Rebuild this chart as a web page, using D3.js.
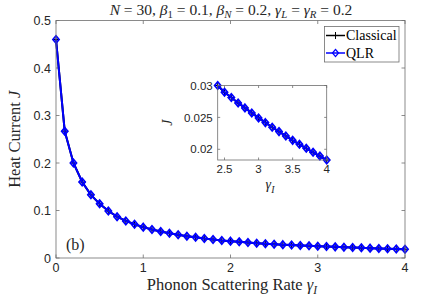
<!DOCTYPE html>
<html>
<head>
<meta charset="utf-8">
<script src="https://cdn.jsdelivr.net/npm/d3@7"></script>
<style>
  body { margin: 0; background: #fff; }
  svg text { fill: #262626; }
</style>
</head>
<body>
<script>
// ---- data ----
const gammaMain = [0, 0.1, 0.2, 0.3, 0.4, 0.5, 0.6, 0.7, 0.8, 0.9, 1.0,
                   1.1, 1.2, 1.3, 1.4, 1.5, 1.6, 1.7, 1.8, 1.9, 2.0,
                   2.1, 2.2, 2.3, 2.4, 2.5, 2.6, 2.7, 2.8, 2.9, 3.0,
                   3.1, 3.2, 3.3, 3.4, 3.5, 3.6, 3.7, 3.8, 3.9, 4.0];
const currentQLR = [0.460, 0.267, 0.200, 0.160, 0.133, 0.114, 0.099, 0.087, 0.078, 0.071, 0.065,
                    0.060, 0.056, 0.052, 0.049, 0.046, 0.0435, 0.041, 0.039, 0.037, 0.0355,
                    0.034, 0.0325, 0.0312, 0.0300, 0.02895, 0.02811, 0.02727, 0.02649, 0.02570, 0.02492,
                    0.02418, 0.02345, 0.02277, 0.02209, 0.02140, 0.02078, 0.02015, 0.01952, 0.01894, 0.01831];
const currentClassical = currentQLR.slice(); // curves coincide in the figure

const xTicks = [0, 1, 2, 3, 4];
const yTicks = [0, 0.1, 0.2, 0.3, 0.4, 0.5];
const insetXTicks = [2.5, 3, 3.5, 4];
const insetYTicks = [0.02, 0.025, 0.03];
const legendKeys = ["Classical", "QLR"];

// ---- layout ----
const WIDTH = 436, HEIGHT = 297;
const plot = {left: 56, right: 405, top: 20.5, bottom: 258};
const inset = {left: 217.7, right: 326.7, top: 85.5, bottom: 160};
const axisColor = "#6e6e6e";
const serif = "'Liberation Serif', 'DejaVu Serif', serif";
const sans = "'Liberation Sans', Arial, sans-serif";

const svg = d3.select("body").append("svg")
    .attr("width", WIDTH)
    .attr("height", HEIGHT);

// writes math-ish text: parts = [text, kind]
// kind: r roman, i italic, s italic subscript, sr roman subscript
function mathText(sel, parts, size) {
  let shifted = false;
  parts.forEach(([t, kind]) => {
    const ts = sel.append("tspan").text(t);
    if (kind === "i") ts.style("font-style", "italic");
    if (kind === "s" || kind === "sr") {
      if (kind === "s") ts.style("font-style", "italic");
      ts.attr("font-size", size * 0.7).attr("dy", size * 0.25);
      shifted = true;
    } else if (shifted) {
      ts.attr("dy", -size * 0.25);
      shifted = false;
    }
  });
}

function drawFrame(g, box, x, y, xt, yt, tickLen, fmtX, fmtY, fs) {
  g.append("rect")
      .attr("x", box.left).attr("y", box.top)
      .attr("width", box.right - box.left).attr("height", box.bottom - box.top)
      .attr("fill", "#fff").attr("stroke", "none");

  xt.forEach(v => {
    const px = x(v);
    g.append("line").attr("x1", px).attr("x2", px).attr("y1", box.bottom).attr("y2", box.bottom - tickLen)
        .attr("stroke", axisColor).attr("stroke-width", 0.8);
    g.append("line").attr("x1", px).attr("x2", px).attr("y1", box.top).attr("y2", box.top + tickLen)
        .attr("stroke", axisColor).attr("stroke-width", 0.8);
    g.append("text").attr("x", px).attr("y", box.bottom + fs + 1)
        .attr("text-anchor", "middle").attr("font-family", sans).attr("font-size", fs)
        .text(fmtX(v));
  });
  yt.forEach(v => {
    const py = y(v);
    g.append("line").attr("y1", py).attr("y2", py).attr("x1", box.left).attr("x2", box.left + tickLen)
        .attr("stroke", axisColor).attr("stroke-width", 0.8);
    g.append("line").attr("y1", py).attr("y2", py).attr("x1", box.right).attr("x2", box.right - tickLen)
        .attr("stroke", axisColor).attr("stroke-width", 0.8);
    g.append("text").attr("x", box.left - 5).attr("y", py).attr("dy", "0.36em")
        .attr("text-anchor", "end").attr("font-family", sans).attr("font-size", fs)
        .text(fmtY(v));
  });
}

function drawSeries(g, x, y, xs, ys, lw) {
  const pts = xs.map((v, i) => [x(v), y(ys[i])]);
  const line = d3.line();
  // classical underneath
  g.append("path").attr("d", line(pts)).attr("fill", "none").attr("stroke", "#000").attr("stroke-width", lw);
  g.selectAll(null).data(pts).enter().append("path")
      .attr("d", d => `M${d[0]-3.5},${d[1]}H${d[0]+3.5}M${d[0]},${d[1]-3.5}V${d[1]+3.5}`)
      .attr("stroke", "#000").attr("stroke-width", 1);
  // QLR on top
  g.append("path").attr("d", line(pts)).attr("fill", "none").attr("stroke", "#0000ff").attr("stroke-width", lw);
  g.selectAll(null).data(pts).enter().append("path")
      .attr("d", d => `M${d[0]},${d[1]-3.7}L${d[0]+3.1},${d[1]}L${d[0]},${d[1]+3.7}L${d[0]-3.1},${d[1]}Z`)
      .attr("fill", "none").attr("stroke", "#0000ff").attr("stroke-width", 1.7);
}

// ---- main axes ----
const xScale = d3.scaleLinear().domain([0, 4]).range([plot.left, plot.right]);
const yScale = d3.scaleLinear().domain([0, 0.5]).range([plot.bottom, plot.top]);

const main = svg.append("g");
drawFrame(main, plot, xScale, yScale, xTicks, yTicks, 3.5, d3.format("d"), d => d === 0 ? "0" : d3.format(".1f")(d), 12.5);
drawSeries(main, xScale, yScale, gammaMain, currentQLR, 2);

main.append("rect")
    .attr("x", plot.left).attr("y", plot.top)
    .attr("width", plot.right - plot.left).attr("height", plot.bottom - plot.top)
    .attr("fill", "none").attr("stroke", axisColor).attr("stroke-width", 0.8);

// panel tag
main.append("text").attr("x", 66).attr("y", 250)
    .attr("font-family", serif).attr("font-size", 16).text("(b)");

// title
const title = svg.append("text").attr("x", 231).attr("y", 14.5)
    .attr("text-anchor", "middle").attr("font-family", serif).attr("font-size", 15.5);
mathText(title, [["N", "i"], [" = 30, ", "r"], ["\u03B2", "i"], ["1", "sr"], [" = 0.1, ", "r"],
                 ["\u03B2", "i"], ["N", "s"], [" = 0.2, ", "r"], ["\u03B3", "i"], ["L", "s"],
                 [" = ", "r"], ["\u03B3", "i"], ["R", "s"], [" = 0.2", "r"]], 15.5);

// axis labels
const xlab = svg.append("text").attr("x", 232).attr("y", 290)
    .attr("text-anchor", "middle").attr("font-family", serif).attr("font-size", 16.5);
mathText(xlab, [["Phonon Scattering Rate ", "r"], ["\u03B3", "i"], ["I", "s"]], 16.5);

const ylab = svg.append("text")
    .attr("transform", "translate(20," + ((plot.top + plot.bottom) / 2) + ") rotate(-90)")
    .attr("text-anchor", "middle").attr("font-family", serif).attr("font-size", 16.5);
mathText(ylab, [["Heat Current ", "r"], ["J", "i"]], 16.5);

// ---- legend ----
const lg = svg.append("g");
lg.append("rect").attr("x", 324.5).attr("y", 26.5).attr("width", 74.5).attr("height", 35.5)
    .attr("fill", "#fff").attr("stroke", axisColor).attr("stroke-width", 0.8);
legendKeys.forEach((k, i) => {
  const cy = 35.5 + i * 17.5;
  const col = i === 0 ? "#000" : "#0000ff";
  lg.append("line").attr("x1", 326).attr("x2", 345).attr("y1", cy).attr("y2", cy)
      .attr("stroke", col).attr("stroke-width", 1.5);
  if (i === 0) {
    lg.append("path").attr("d", `M332,${cy}H339M335.5,${cy-3.5}V${cy+3.5}`).attr("stroke", col).attr("stroke-width", 1);
  } else {
    lg.append("path").attr("d", `M335.5,${cy-3.6}L338.5,${cy}L335.5,${cy+3.6}L332.5,${cy}Z`)
        .attr("fill", "none").attr("stroke", col).attr("stroke-width", 1.3);
  }
  lg.append("text").attr("x", 346).attr("y", cy).attr("dy", "0.35em")
      .attr("font-family", serif).attr("font-size", 14).style("fill", "#000").text(k);
});

// ---- inset ----
const insetStart = gammaMain.indexOf(2.4);
const insetX = gammaMain.slice(insetStart);
const insetY = currentQLR.slice(insetStart);

const xIn = d3.scaleLinear().domain([2.4, 4]).range([inset.left, inset.right]);
const yIn = d3.scaleLinear().domain([0.01832, 0.0300]).range([inset.bottom, inset.top]);

const ins = svg.append("g");
drawFrame(ins, inset, xIn, yIn, insetXTicks, insetYTicks, 2.5, d => String(d), d => String(+d.toFixed(3)), 11.5);
drawSeries(ins, xIn, yIn, insetX, insetY, 2);
ins.append("rect")
    .attr("x", inset.left).attr("y", inset.top)
    .attr("width", inset.right - inset.left).attr("height", inset.bottom - inset.top)
    .attr("fill", "none").attr("stroke", axisColor).attr("stroke-width", 0.8);

const inXlab = svg.append("text").attr("x", 270).attr("y", 189)
    .attr("text-anchor", "middle").attr("font-family", serif).attr("font-size", 14);
mathText(inXlab, [["\u03B3", "i"], ["I", "s"]], 14);

svg.append("text")
    .attr("transform", "translate(172," + ((inset.top + inset.bottom) / 2) + ") rotate(-90)")
    .attr("text-anchor", "middle").attr("font-family", serif).attr("font-size", 14)
    .style("font-style", "italic").text("J");
</script>
</body>
</html>
